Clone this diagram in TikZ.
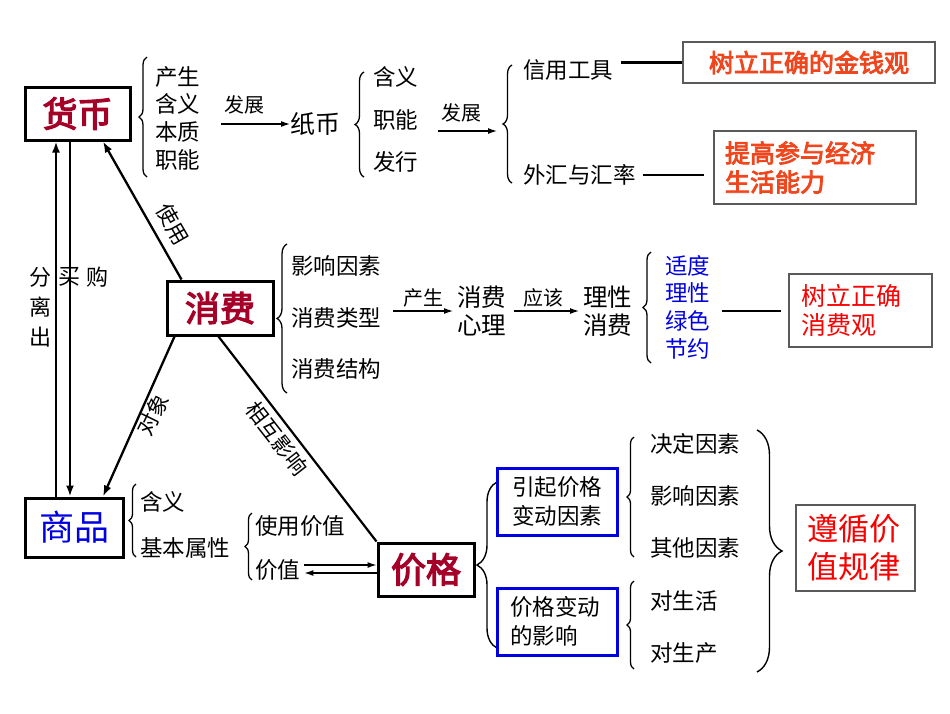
\documentclass[tikz,border=0pt]{standalone}
\usepackage{fontspec}
\setmainfont{Noto Sans CJK SC}[AutoFakeBold=3.5]
\usetikzlibrary{arrows.meta,decorations.pathreplacing}
\definecolor{dred}{RGB}{165,0,40}
\definecolor{ored}{RGB}{240,70,30}
\definecolor{bred}{RGB}{250,0,0}
\definecolor{bblue}{RGB}{0,0,225}
\definecolor{gborder}{RGB}{90,90,90}
\tikzset{
  mainbox/.style={draw, line width=3pt, inner sep=0pt, font=\fontsize{35pt}{40pt}\selectfont\bfseries\addfontfeature{FakeBold=2.5}, text=dred},
  item/.style={anchor=west, inner sep=0pt, font=\fontsize{22.5pt}{27pt}\selectfont},
  mid/.style={anchor=west, inner sep=0pt, font=\fontsize{24.5pt}{28pt}\selectfont, align=left},
  blueitem/.style={item, text=bblue},
  lbl/.style={inner sep=0pt, font=\fontsize{20pt}{24pt}\selectfont},
  dlbl/.style={inner sep=0pt, font=\fontsize{21.5pt}{24pt}\selectfont},
  redbox/.style={draw=gborder, line width=1.5pt, inner sep=0pt, font=\fontsize{25pt}{29pt}\selectfont\bfseries, text=ored, align=left},
  bluebox/.style={draw=bblue, line width=3pt, inner sep=0pt, font=\fontsize{22.5pt}{29pt}\selectfont, align=left},
  brc/.style={decorate, decoration={brace, amplitude=#1}, line width=1.3pt},
  arr/.style={-{Latex[length=9pt,width=6pt]}, line width=1.2pt},
  conn/.style={line width=2.5pt},
  carr/.style={-{Latex[length=11pt,width=8pt]}, line width=2.3pt}
}
\begin{document}
\begin{tikzpicture}[x=1pt,y=-1pt]
\useasboundingbox[fill=white] (0,0) rectangle (950,713);

% ---------- 货币 ----------
\node[mainbox, minimum width=105pt, minimum height=53pt] (hb) at (77.5,113.5) {货币};
\draw[brc=8pt] (147,177) -- (147,57);
\node[item] (hb1) at (155,77) {产生};
\node[item] (hb2) at (155,104) {含义};
\node[item] (hb3) at (155,132) {本质};
\node[item] (hb4) at (155,160) {职能};
\coordinate (a1s) at (221,124);
\node[mid, font=\fontsize{25pt}{28pt}\selectfont] (zb) at (290,124) {纸币};
\draw[arr] (a1s) -- (zb.west);
\node[lbl] (fz1) at (244,105) {发展};
\draw[brc=9pt] (364,177) -- (364,72);
\node[item] (zb1) at (373,77) {含义};
\node[item] (zb2) at (373,120) {职能};
\node[item] (zb3) at (373,162) {发行};
\coordinate (a2s) at (438,131);
\coordinate (a2e) at (497,131);
\draw[arr] (a2s) -- (a2e);
\node[lbl] (fz2) at (461,113) {发展};
\draw[brc=9pt] (512,183) -- (512,65);
\node[item] (xy) at (523,70) {信用工具};
\node[item] (wh) at (523,175) {外汇与汇率};
\node[redbox, minimum width=252pt, minimum height=41pt, align=center] (jqg) at (809,62.5) {树立正确的金钱观};
\node[redbox, minimum width=202pt, minimum height=73pt, text width=180pt] (tg) at (815,167.5) {提高参与经济\\生活能力};
\draw[conn] ([xshift=8pt]xy.east |- jqg.west) -- (jqg.west);
\draw[conn] ([xshift=7pt]wh.east) -- ([xshift=-9pt]tg.west |- wh.east);

% ---------- 消费 ----------
\node[mainbox, minimum width=106pt, minimum height=54pt] (xf) at (220,308) {消费};
\draw[brc=10pt] (287,393) -- (287,244);
\node[item] (xf1) at (291,266) {影响因素};
\node[item] (xf2) at (291,318) {消费类型};
\node[item] (xf3) at (291,369) {消费结构};
\node[mid] (xl) at (457,311) {消费\\心理};
\coordinate (a3s) at (393,311);
\draw[arr] (a3s) -- ([xshift=-4pt]xl.west);
\node[lbl] (cs) at (423,298) {产生};
\node[mid] (lx) at (583,311) {理性\\消费};
\draw[arr] ([xshift=8pt]xl.east) -- ([xshift=-4pt]lx.west);
\node[lbl] (yg) at (543,298) {应该};
\draw[brc=8pt] (651,363) -- (651,252);
\node[blueitem] (b1) at (665,266) {适度};
\node[blueitem] (b2) at (665,293) {理性};
\node[blueitem] (b3) at (665,321) {绿色};
\node[blueitem] (b4) at (665,349) {节约};
\node[redbox, minimum width=143pt, minimum height=73pt, text width=118pt, text=bred, font=\fontsize{25pt}{29pt}\selectfont] (xfg) at (860.5,310.5) {树立正确\\消费观};
\coordinate (l3s) at (722,311);
\draw[conn] (l3s) -- ([xshift=-7pt]xfg.west |- l3s);

% ---------- 商品 ----------
\node[mainbox, minimum width=98pt, minimum height=59pt, text=bblue, font=\fontsize{35pt}{40pt}\selectfont] (sp) at (74,527.5) {商品};
\draw[brc=7pt] (136,557) -- (136,484);
\node[item] (sp1) at (140,502) {含义};
\node[item] (sp2) at (140,548) {基本属性};
\draw[brc=7pt] (252,580) -- (252,513);
\node[item] (sx1) at (255,526) {使用价值};
\node[item] (sx2) at (255,570) {价值};

% ---------- 价格 ----------
\node[mainbox, minimum width=96pt, minimum height=53pt] (jg) at (426,569.5) {价格};
\draw[arr] ([xshift=4pt,yshift=5pt]sx2.east) -- ([yshift=5pt]sx2.east -| jg.west);
\draw[arr] ([yshift=-3pt]sx2.east -| jg.west) -- ([xshift=4pt,yshift=-3pt]sx2.east);
\draw[brc=20pt, line width=1.4pt] (497,648) -- (497,482);
\node[bluebox, minimum width=120pt, minimum height=67pt] (yq) at (557,501.5) {引起价格\\变动因素};
\node[bluebox, minimum width=120pt, minimum height=67pt, text width=94pt] (jb) at (557,621.5) {价格变动\\的影响};
\draw[brc=7pt] (634,557) -- (634,437);
\node[item] (y1) at (650,444) {决定因素};
\node[item] (y2) at (650,496) {影响因素};
\node[item] (y3) at (650,548) {其他因素};
\draw[brc=7pt] (634,669) -- (634,581);
\node[item] (j1) at (650,601) {对生活};
\node[item] (j2) at (650,653) {对生产};
\draw[brc=25pt, line width=1.4pt] (757,430) -- (757,672);
\node[redbox, minimum width=119pt, minimum height=86pt, text width=96pt, text=bred, font=\fontsize{31pt}{38pt}\selectfont] (zx) at (855.5,548) {遵循价\\值规律};

% ---------- 连接 ----------
\draw[carr] ([xshift=-18pt]sp.north) -- ([xshift=-18pt]sp.north |- hb.south);
\draw[carr] ([xshift=-4pt]sp.north |- hb.south) -- ([xshift=-4pt]sp.north);
\node[lbl, font=\fontsize{22pt}{30pt}\selectfont, align=center] (flc) at (40,307) {分\\离\\出};
\node[lbl, font=\fontsize{22pt}{26pt}\selectfont] (m1) at (69,277) {买};
\node[lbl, font=\fontsize{22pt}{26pt}\selectfont] (g1) at (97,277) {购};

\draw[carr] ([xshift=16pt]xf.north west) -- ([xshift=25.5pt]hb.south);
\node[dlbl, rotate=-60] (sy) at (173,224) {使用};
\draw[carr] ([xshift=9pt]xf.south west) -- ([xshift=29pt]sp.north);
\node[dlbl, rotate=64] (dx) at (153,415) {对象};
\draw[conn, line width=2.2pt] ([xshift=53pt]xf.south west) -- (jg.north west);
\node[dlbl, rotate=-52] (xh) at (277,438) {相互影响};
\end{tikzpicture}
\end{document}
